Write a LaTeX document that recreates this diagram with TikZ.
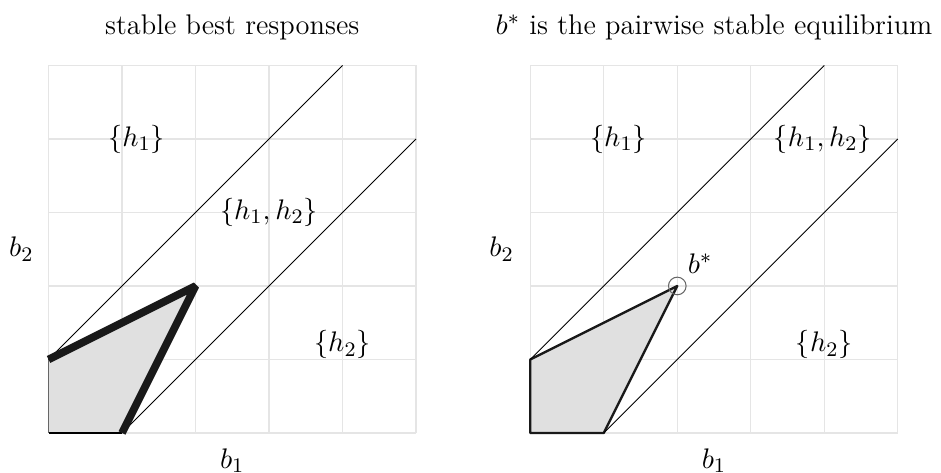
\documentclass[tikz,border=0pt]{standalone}
\usepackage{tikz}
\begin{document}
\begin{tikzpicture}[
  gridline/.style={draw=black!10, line width=0.5pt},
  bound/.style={draw=black, line width=0.3pt},
  region/.style={fill=black!12},
  thickedge/.style={draw=black!90, line width=3pt, line cap=butt, line join=bevel},
  lbl/.style={font=\fontsize{11}{13}\selectfont, inner sep=0pt},
]
\useasboundingbox (-0.660,-0.544) rectangle (12.143,5.891);
% ---------- left panel ----------
\begin{scope}
  \draw[gridline] (0,0) grid (5,5);
  \coordinate (A0) at (0,0);
  \coordinate (A1) at (1,0);
  \coordinate (A2) at (2,2);
  \coordinate (A3) at (0,1);
  \fill[region] (A0) -- (A1) -- (A2) -- (A3) -- cycle;
  \draw[draw=black!60, line width=0.5pt] (A3) -- (A0);
  \draw[draw=black, line width=0.6pt] (A0) -- (A1);
  \coordinate (U1) at (4,5);
  \coordinate (L1) at (5,4);
  \draw[bound] (A3) -- (U1);
  \draw[bound] (A1) -- (L1);
  \draw[thickedge] (A3) -- (A2) -- (A1);
  \node[lbl] (t1) at (2.5,5.52) {stable best responses};
  \node[lbl] (h1a) at (1.2,4.0) {$\{h_1\}$};
  \node[lbl] (h12a) at (3.0,3.0) {$\{h_1,h_2\}$};
  \node[lbl] (h2a) at (4.0,1.2) {$\{h_2\}$};
  \node[lbl] (b1a) at (2.5,-0.38) {$b_1$};
  \node[lbl] (b2a) at (-0.37,2.5) {$b_2$};
\end{scope}
% ---------- right panel ----------
\begin{scope}[xshift=6.555cm]
  \draw[gridline] (0,0) grid (5,5);
  \coordinate (B0) at (0,0);
  \coordinate (B1) at (1,0);
  \coordinate (B2) at (2,2);
  \coordinate (B3) at (0,1);
  \filldraw[region, draw=black!90, line width=0.9pt, line join=round] (B0) -- (B1) -- (B2) -- (B3) -- cycle;
  \coordinate (U2) at (4,5);
  \coordinate (L2) at (5,4);
  \draw[bound] (B3) -- (U2);
  \draw[bound] (B1) -- (L2);
  \node[draw=black!60, line width=0.4pt, circle, minimum size=0.24cm, inner sep=0pt] (bs) at (B2) {};
  \node[lbl] (bstar) at (2.31,2.3) {$b^*$};
  \node[lbl] (t2) at (2.5,5.52) {$b^*$ is the pairwise stable equilibrium};
  \node[lbl] (h1b) at (1.2,4.0) {$\{h_1\}$};
  \node[lbl] (h12b) at (3.98,4.0) {$\{h_1,h_2\}$};
  \node[lbl] (h2b) at (4.0,1.2) {$\{h_2\}$};
  \node[lbl] (b1b) at (2.5,-0.38) {$b_1$};
  \node[lbl] (b2b) at (-0.39,2.5) {$b_2$};
\end{scope}
\end{tikzpicture}
\end{document}
